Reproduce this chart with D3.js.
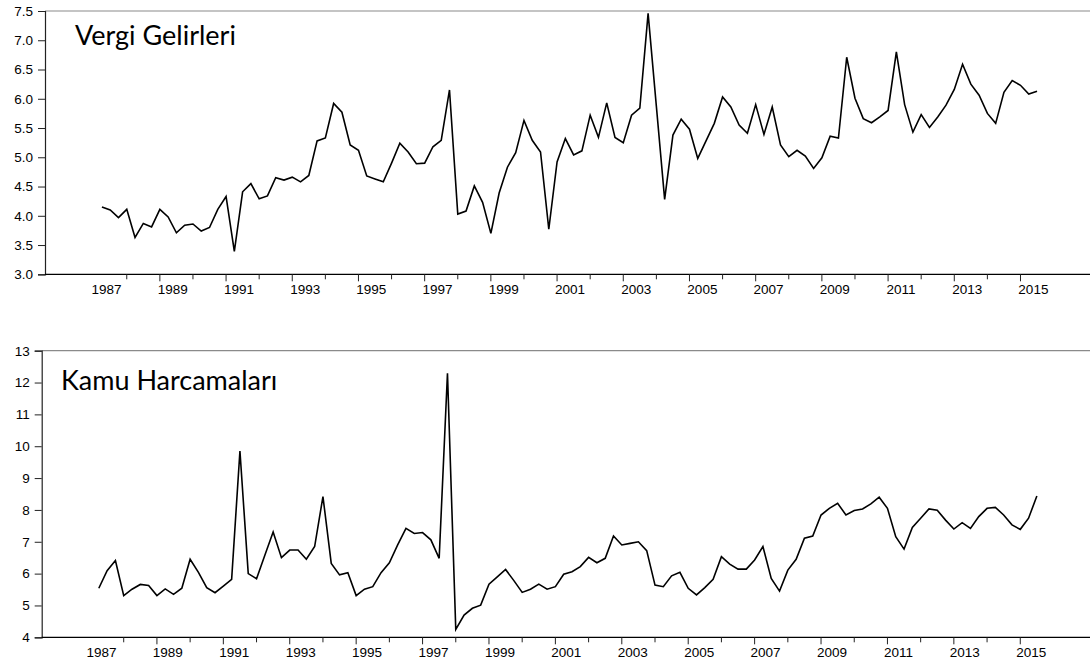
<!DOCTYPE html>
<html>
<head>
<meta charset="utf-8">
<script src="https://cdn.jsdelivr.net/npm/d3@7"></script>
<style>
    body { margin: 0; background: #fff; }
    svg { display: block; }
</style>
</head>
<body>
<svg width="1090" height="667"></svg>
<script>
// quarterly series, 1987Q2 .. 2015Q3
const startYear = 1987;
const startQuarter = 2;

const vergiGelirleri = [
    4.15, 4.10, 3.97, 4.11, 3.63, 3.87, 3.81, 4.11, 3.98, 3.71,
    3.84, 3.86, 3.74, 3.80, 4.11, 4.33, 3.39, 4.41, 4.55, 4.29,
    4.34, 4.65, 4.61, 4.66, 4.58, 4.69, 5.28, 5.33, 5.92, 5.77,
    5.21, 5.12, 4.68, 4.63, 4.58, 4.90, 5.24, 5.09, 4.89, 4.90,
    5.18, 5.29, 6.15, 4.03, 4.08, 4.51, 4.23, 3.70, 4.39, 4.83,
    5.08, 5.63, 5.29, 5.09, 3.77, 4.92, 5.32, 5.04, 5.11, 5.72,
    5.34, 5.93, 5.34, 5.25, 5.72, 5.84, 7.46, 5.87, 4.28, 5.38,
    5.65, 5.48, 4.98, 5.28, 5.58, 6.03, 5.86, 5.55, 5.41, 5.90,
    5.39, 5.86, 5.21, 5.01, 5.12, 5.02, 4.81, 4.99, 5.36, 5.33,
    6.71, 6.01, 5.66, 5.59, 5.69, 5.80, 6.80, 5.90, 5.43, 5.73,
    5.51, 5.69, 5.89, 6.16, 6.59, 6.25, 6.06, 5.75, 5.58, 6.11,
    6.31, 6.23, 6.08, 6.13
];

const kamuHarcamalari = [
    5.54, 6.09, 6.41, 5.31, 5.51, 5.66, 5.63, 5.31, 5.52, 5.35,
    5.54, 6.45, 6.04, 5.56, 5.40, 5.61, 5.82, 9.85, 6.00, 5.84,
    6.58, 7.31, 6.50, 6.74, 6.74, 6.45, 6.85, 8.42, 6.32, 5.96,
    6.03, 5.31, 5.51, 5.59, 6.03, 6.34, 6.90, 7.42, 7.26, 7.29,
    7.06, 6.48, 12.29, 4.25, 4.70, 4.91, 5.01, 5.67, 5.90, 6.13,
    5.78, 5.41, 5.51, 5.67, 5.51, 5.59, 5.98, 6.06, 6.22, 6.51,
    6.34, 6.48, 7.18, 6.90, 6.95, 7.00, 6.72, 5.64, 5.59, 5.93,
    6.04, 5.54, 5.33, 5.56, 5.82, 6.53, 6.30, 6.14, 6.14, 6.43,
    6.85, 5.85, 5.45, 6.11, 6.45, 7.11, 7.18, 7.84, 8.05, 8.21,
    7.84, 7.98, 8.03, 8.19, 8.40, 8.05, 7.16, 6.77, 7.45, 7.74,
    8.03, 7.99, 7.68, 7.40, 7.60, 7.42, 7.79, 8.05, 8.08, 7.84,
    7.53, 7.39, 7.74, 8.44
];

const tickYears = d3.range(1988, 2016);
const labelYears = d3.range(1987, 2016, 2);
const vergiTicks = [3.0, 3.5, 4.0, 4.5, 5.0, 5.5, 6.0, 6.5, 7.0, 7.5];
const kamuTicks = [4, 5, 6, 7, 8, 9, 10, 11, 12, 13];

const labelFont = "Arial, 'Liberation Sans', sans-serif";
const svg = d3.select("svg");
const timeDomain = [1985.53, 2017.1];

function drawPanel(opts) {
    const g = svg.append("g");

    const x = d3.scaleLinear().domain(timeDomain).range([opts.left, 1090]);
    const y = d3.scaleLinear()
        .domain(d3.extent(opts.ticks))
        .range([opts.bottom, opts.top]);

    const data = opts.values.map((v, i) => {
        const q = startQuarter - 1 + i;
        return { t: startYear + Math.floor(q / 4) + (q % 4) / 4, v: v };
    });

    // frame: grey top line, black axis lines
    g.append("line")
        .attr("x1", opts.left).attr("x2", 1090)
        .attr("y1", opts.top).attr("y2", opts.top)
        .attr("stroke", "#8a8a8a")
        .attr("stroke-width", 1.2);

    g.append("g")
        .attr("transform", `translate(${opts.left},0)`)
        .call(d3.axisLeft(y)
            .tickValues(opts.ticks)
            .tickSize(7)
            .tickPadding(5)
            .tickFormat(opts.format))
        .call(a => a.attr("font-family", labelFont).attr("font-size", 13.5))
        .call(a => a.select(".domain").attr("stroke", "#222").attr("stroke-width", 1.2))
        .call(a => a.selectAll(".tick line").attr("stroke", "#222"))
        .call(a => a.selectAll(".tick text").attr("fill", "#000"));

    g.append("line")
        .attr("x1", opts.left).attr("x2", 1090)
        .attr("y1", opts.bottom).attr("y2", opts.bottom)
        .attr("stroke", "#000")
        .attr("stroke-width", 1.3);

    g.selectAll(".xtick")
        .data(tickYears)
        .enter()
        .append("line")
        .attr("class", "xtick")
        .attr("x1", d => x(d)).attr("x2", d => x(d))
        .attr("y1", opts.bottom)
        .attr("y2", d => opts.bottom + (d % 2 ? 7 : 5))
        .attr("stroke", "#222")
        .attr("stroke-width", 1);

    g.selectAll(".year")
        .data(labelYears)
        .enter()
        .append("text")
        .attr("class", "year")
        .attr("x", d => x(d + opts.labelShift))
        .attr("y", opts.bottom + 20)
        .attr("text-anchor", "middle")
        .attr("font-family", labelFont)
        .attr("font-size", 13.5)
        .attr("fill", "#000")
        .text(d => d);

    g.append("path")
        .datum(data)
        .attr("fill", "none")
        .attr("stroke", "#000")
        .attr("stroke-width", 1.6)
        .attr("stroke-linejoin", "miter")
        .attr("d", d3.line().x(d => x(d.t)).y(d => y(d.v)));

    g.append("text")
        .attr("x", opts.titleX)
        .attr("y", opts.titleY)
        .attr("font-family", "Lato, 'Open Sans', sans-serif")
        .attr("font-size", 27)
        .attr("fill", "#000")
        .text(opts.title);
}

drawPanel({
    title: "Vergi Gelirleri",
    values: vergiGelirleri,
    ticks: vergiTicks,
    format: d3.format(".1f"),
    left: 45, top: 11, bottom: 274.3,
    labelShift: 0.39,
    titleX: 75, titleY: 45
});

drawPanel({
    title: "Kamu Harcamaları",
    values: kamuHarcamalari,
    ticks: kamuTicks,
    format: d3.format("d"),
    left: 41.7, top: 350.7, bottom: 637.3,
    labelShift: 0.33,
    titleX: 61, titleY: 390
});
</script>
</body>
</html>
